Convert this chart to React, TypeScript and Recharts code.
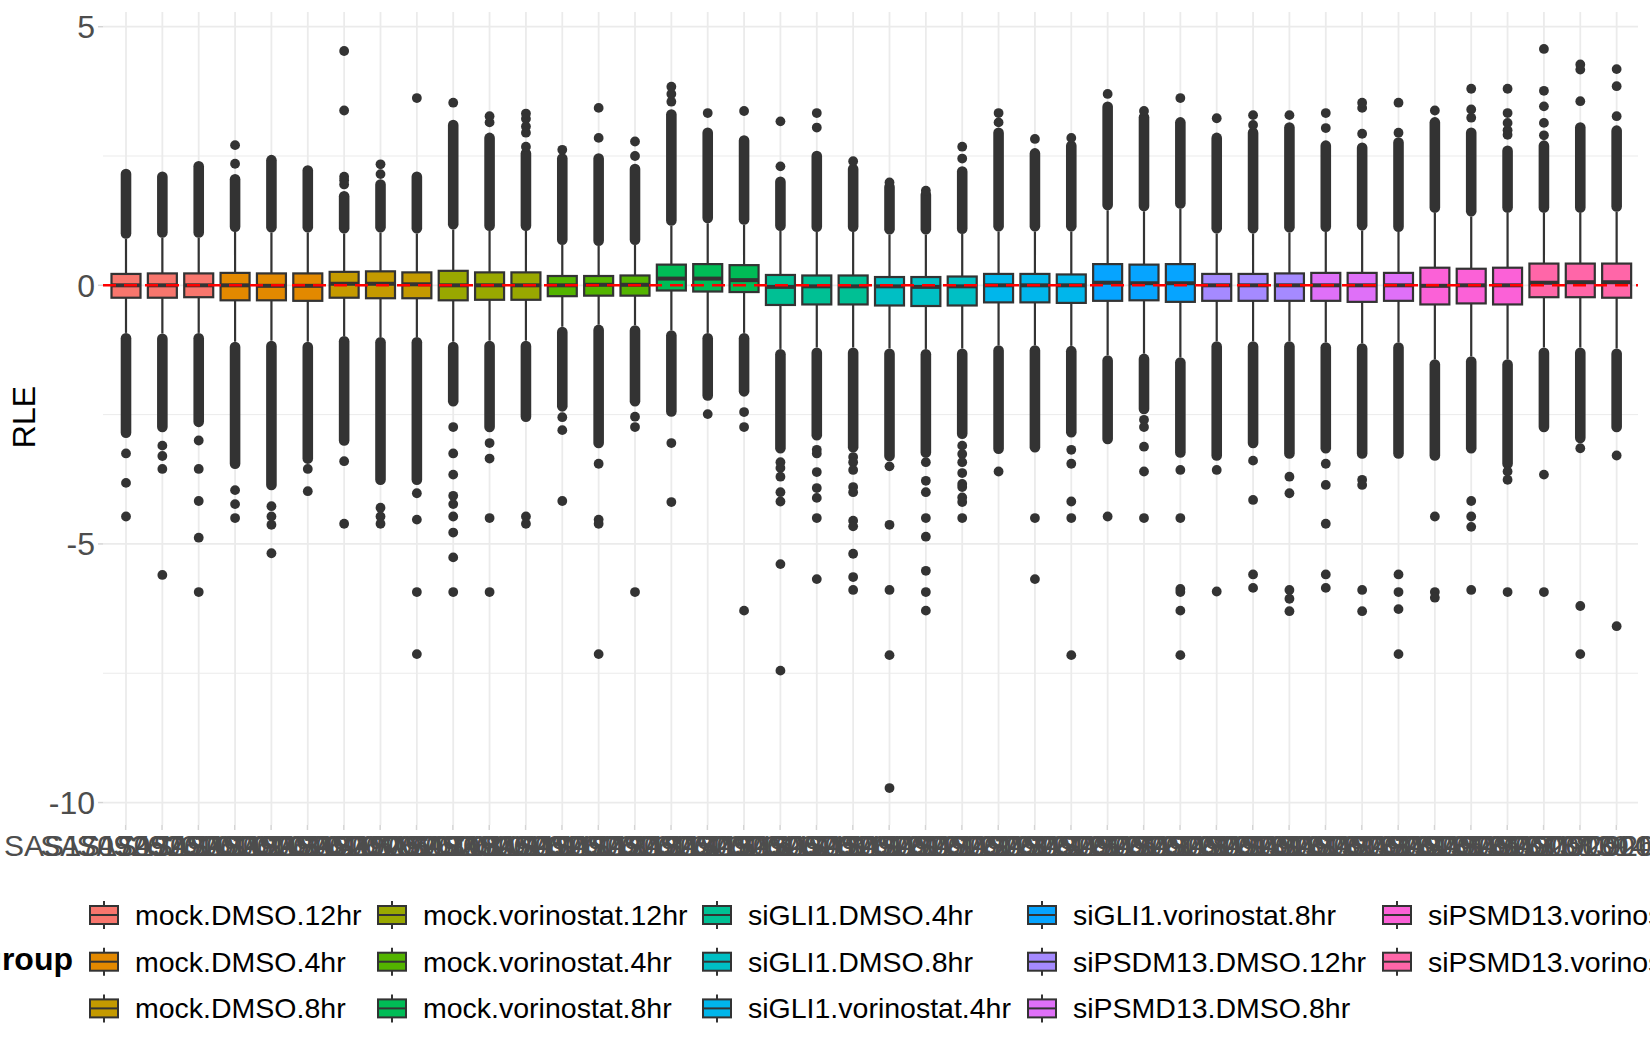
import React from "react";
import { ComposedChart, Bar, XAxis, YAxis, ReferenceLine, CartesianGrid } from "recharts";

const FONT = '"Liberation Sans", Arial, Helvetica, sans-serif';

// ---------- data ----------
const groups = [
  "mock.DMSO.12hr",
  "mock.DMSO.4hr",
  "mock.DMSO.8hr",
  "mock.vorinostat.12hr",
  "mock.vorinostat.4hr",
  "mock.vorinostat.8hr",
  "siGLI1.DMSO.4hr",
  "siGLI1.DMSO.8hr",
  "siGLI1.vorinostat.4hr",
  "siGLI1.vorinostat.8hr",
  "siPSDM13.DMSO.12hr",
  "siPSMD13.DMSO.8hr",
  "siPSMD13.vorinostat.4hr",
  "siPSMD13.vorinostat.8hr",
];

const groupColors = [
  "#F8766D", "#E38900", "#C49A00", "#99A800", "#53B400", "#00BC56", "#00C094",
  "#00BFC4", "#00B6EB", "#06A4FF", "#A58AFF", "#DF70F8", "#FB61D7", "#FF66A8",
];

const sampleNames = [
  "SAS17092600101", "SAS17092600102", "SAS17092600103",
  "SAS17092600104", "SAS17092600105", "SAS17092600106",
  "SAS17092600107", "SAS17092600108", "SAS17092600109",
  "SAS17092600110", "SAS17092600111", "SAS17092600112",
  "SAS17092600113", "SAS17092600114", "SAS17092600115",
  "SAS17092600116", "SAS17092600117", "SAS17092600118",
  "SAS17092600119", "SAS17092600120", "SAS17092600121",
  "SAS17092600122", "SAS17092600123", "SAS17092600124",
  "SAS17092600125", "SAS17092600126", "SAS17092600127",
  "SAS17092600128", "SAS17092600129", "SAS17092600130",
  "SAS17092600131", "SAS17092600132", "SAS17092600133",
  "SAS17092600134", "SAS17092600135", "SAS17092600136",
  "SAS17092600137", "SAS17092600138", "SAS17092600139",
  "SAS17092600140", "SAS17092600141", "SAS17092637893",
];

// group index of each sample
const sampleGroup = [
  0, 0, 0, 1, 1, 1, 2, 2, 2, 3, 3, 3, 4, 4, 4, 5, 5, 5, 6, 6, 6,
  7, 7, 7, 8, 8, 8, 9, 9, 9, 10, 10, 10, 11, 11, 11, 12, 12, 12, 13, 13, 13,
];

const q1 = [
  -0.24, -0.24, -0.23, -0.29, -0.29, -0.3, -0.24, -0.25, -0.25, -0.29, -0.28, -0.28,
  -0.21, -0.2, -0.2, -0.1, -0.12, -0.13, -0.38, -0.37, -0.37, -0.39, -0.4, -0.39,
  -0.33, -0.33, -0.34, -0.3, -0.29, -0.32, -0.3, -0.3, -0.3, -0.3, -0.32, -0.3,
  -0.37, -0.35, -0.37, -0.23, -0.23, -0.24,
];
const median = [
  0, 0, 0, 0, -0.01, -0.01, 0.03, 0.03, 0.02, 0, 0, 0,
  0, 0.01, 0.01, 0.13, 0.13, 0.1, -0.03, -0.02, -0.02, -0.02, -0.03, -0.02,
  0, 0, 0, 0.05, 0.04, 0.04, 0, 0, 0, 0, 0, 0,
  -0.01, 0, 0, 0.05, 0.06, 0.06,
];
const q3 = [
  0.22, 0.23, 0.23, 0.24, 0.23, 0.23, 0.26, 0.27, 0.25, 0.28, 0.25, 0.25,
  0.18, 0.18, 0.19, 0.4, 0.41, 0.39, 0.2, 0.19, 0.19, 0.16, 0.16, 0.17,
  0.22, 0.22, 0.21, 0.41, 0.4, 0.41, 0.22, 0.22, 0.23, 0.24, 0.24, 0.24,
  0.34, 0.32, 0.34, 0.42, 0.42, 0.42,
];
const whiskerLow = [
  -0.92, -0.93, -0.92, -1.09, -1.07, -1.09, -0.98, -1.0, -1.0, -1.09, -1.07, -1.07,
  -0.8, -0.76, -0.77, -0.87, -0.92, -0.92, -1.23, -1.2, -1.2, -1.22, -1.23, -1.22,
  -1.16, -1.16, -1.17, -1.35, -1.32, -1.39, -1.08, -1.08, -1.08, -1.1, -1.12, -1.1,
  -1.43, -1.37, -1.43, -1.2, -1.2, -1.22,
];
const whiskerHigh = [
  0.9, 0.92, 0.92, 1.03, 1.02, 1.02, 1.0, 1.02, 1.0, 1.08, 1.05, 1.05,
  0.78, 0.76, 0.78, 1.15, 1.2, 1.17, 1.05, 1.03, 1.03, 0.98, 0.98, 0.99,
  1.04, 1.04, 1.04, 1.45, 1.43, 1.48, 1.0, 1.0, 1.02, 1.03, 1.06, 1.03,
  1.4, 1.33, 1.4, 1.4, 1.4, 1.42,
];
// extent of the dense outlier clouds (values of the last tightly packed points)
const denseHigh = [
  2.15, 2.1, 2.3, 2.05, 2.42, 2.22, 1.72, 1.95, 2.1, 3.1, 2.85, 2.55,
  2.45, 2.45, 2.25, 3.3, 2.95, 2.8, 2.0, 2.5, 2.25, 1.9, 1.75, 2.2,
  2.95, 2.55, 2.7, 3.45, 3.25, 3.15, 2.85, 2.95, 3.05, 2.7, 2.66, 2.76,
  3.15, 2.95, 2.6, 2.7, 3.05, 2.99,
];
const denseLow = [
  -2.85, -2.74, -2.64, -3.45, -3.86, -3.35, -3.0, -3.76, -3.76, -2.24, -2.74, -2.54,
  -2.34, -3.05, -2.24, -2.44, -2.13, -2.05, -3.15, -2.9, -3.13, -3.3, -3.23, -2.87,
  -3.16, -3.13, -2.84, -2.97, -2.39, -3.23, -3.29, -3.05, -3.25, -3.15, -3.25, -3.25,
  -3.29, -3.15, -3.45, -2.74, -2.95, -2.74,
];
// isolated outliers
const outliers: number[][] = [
  [-3.25, -3.82, -4.47],
  [-3.1, -3.3, -3.55, -5.6],
  [-3.0, -3.55, -4.17, -4.88, -5.93],
  [2.35, 2.71, -3.96, -4.23, -4.5],
  [-4.27, -4.47, -4.63, -5.18],
  [-3.55, -3.98],
  [1.95, 2.03, 2.1, 3.38, 4.53, -3.4, -4.61],
  [2.15, 2.34, -4.3, -4.47, -4.61],
  [3.62, -4.02, -4.53, -5.93, -7.13],
  [3.53, -2.74, -3.25, -3.66, -4.07, -4.23, -4.47, -4.78, -5.26, -5.93],
  [3.15, 3.27, -3.05, -3.35, -4.5, -5.93],
  [2.68, 2.95, 3.07, 3.22, 3.32, -4.47, -4.61],
  [2.62, -2.55, -2.8, -4.17],
  [2.85, 3.43, -3.45, -4.53, -4.61, -7.13],
  [2.5, 2.78, -2.54, -2.74, -5.93],
  [3.55, 3.7, 3.84, -3.05, -4.19],
  [3.33, -2.49],
  [3.37, -2.45, -2.74, -6.29],
  [2.3, 3.17, -3.42, -3.53, -3.7, -4.0, -4.18, -5.39, -7.45],
  [3.05, 3.33, -3.18, -3.25, -3.61, -3.92, -4.11, -4.5, -5.68],
  [2.4, -3.32, -3.42, -3.57, -3.9, -4.0, -4.55, -4.66, -5.19, -5.64, -5.89],
  [1.99, -3.5, -4.63, -5.89, -7.15, -9.72],
  [1.83, -3.42, -3.78, -4.0, -4.5, -4.86, -5.52, -5.93, -6.29],
  [2.45, 2.68, -3.1, -3.26, -3.42, -3.63, -3.84, -3.9, -4.1, -4.19, -4.5],
  [3.15, 3.33, -3.6],
  [2.83, -4.5, -5.68],
  [2.85, -3.18, -3.45, -4.18, -4.5, -7.15],
  [3.7, -4.47],
  [3.37, -2.6, -2.74, -3.12, -3.6, -4.5],
  [3.62, -3.57, -4.5, -5.87, -5.93, -6.29, -7.15],
  [3.23, -3.57, -5.92],
  [3.1, 3.29, -3.39, -4.15, -5.59, -5.85],
  [3.29, -3.7, -4.02, -5.89, -6.06, -6.3],
  [3.04, 3.33, -3.45, -3.86, -4.61, -5.59, -5.85],
  [2.93, 3.43, 3.53, -3.76, -3.86, -5.89, -6.3],
  [2.95, 3.53, -5.59, -5.93, -6.26, -7.13],
  [3.38, -4.47, -5.93, -6.04],
  [3.24, 3.4, 3.8, -4.17, -4.47, -4.67, -5.89],
  [2.91, 3.0, 3.14, 3.33, 3.8, -3.6, -3.76, -5.93],
  [2.9, 3.14, 3.46, 3.76, 4.57, -3.66, -5.93],
  [3.56, 4.17, 4.27, -3.15, -6.2, -7.13],
  [3.27, 3.85, 4.18, -3.29, -6.59],
];

const yTicks = [-10, -5, 0, 5];
const yMinorLines = [-7.5, -2.5, 2.5];
const yDomain: [number, number] = [-10.434, 5.284];

const rows = sampleNames.map((sample, i) => {
  const all = [denseLow[i], denseHigh[i], ...outliers[i]];
  return {
    sample,
    group: groups[sampleGroup[i]],
    color: groupColors[sampleGroup[i]],
    q1: q1[i],
    median: median[i],
    q3: q3[i],
    wLo: whiskerLow[i],
    wHi: whiskerHigh[i],
    dLo: denseLow[i],
    dHi: denseHigh[i],
    outliers: outliers[i],
    range: [Math.min(...all), Math.max(...all)],
  };
});

// ---------- drawing ----------
const INK = "#333333";
const GRID = "#EBEBEB";
const R = 4.9; // outlier point radius
const CLOUD = 5.3; // half width of a dense outlier cloud

const BoxShape = (props: any) => {
  const { x, y, width, height, payload } = props;
  if (!payload || height == null) return null;
  const [lo, hi] = payload.range;
  const k = height / (hi - lo);
  const Y = (v: number) => y + (hi - v) * k;
  const cx = x + width / 2;
  const half = width / 2;
  return (
    <g>
      <line x1={cx} x2={cx} y1={Y(payload.wHi) - CLOUD} y2={Y(payload.dHi)} stroke={INK} strokeWidth={2 * CLOUD} strokeLinecap="round" />
      <line x1={cx} x2={cx} y1={Y(payload.wLo) + CLOUD} y2={Y(payload.dLo)} stroke={INK} strokeWidth={2 * CLOUD} strokeLinecap="round" />
      {payload.outliers.map((v: number, j: number) => (
        <circle key={j} cx={cx} cy={Y(v)} r={R} fill={INK} />
      ))}
      <line x1={cx} x2={cx} y1={Y(payload.q3)} y2={Y(payload.wHi)} stroke={INK} strokeWidth={2.2} />
      <line x1={cx} x2={cx} y1={Y(payload.q1)} y2={Y(payload.wLo)} stroke={INK} strokeWidth={2.2} />
      <rect x={cx - half} y={Y(payload.q3)} width={width} height={Y(payload.q1) - Y(payload.q3)} fill={payload.color} stroke={INK} strokeWidth={2.2} />
      <line x1={cx - half} x2={cx + half} y1={Y(payload.median)} y2={Y(payload.median)} stroke={INK} strokeWidth={4} />
    </g>
  );
};

// vertical major grid line, drawn at the centre of each category slot
const VGrid = (p: any) => {
  const cx = p.x + p.width / 2;
  return <line x1={cx} x2={cx} y1={p.y} y2={p.y + p.height} stroke={GRID} strokeWidth={1.8} />;
};

const XTick = (p: any) => (
  <text x={p.x} y={p.y} dy="0.71em" textAnchor="middle" fontSize={30} fontFamily={FONT} fill="#4D4D4D">
    {p.payload.value}
  </text>
);

const YTick = (p: any) => (
  <text x={p.x} y={p.y} dy="0.355em" textAnchor="end" fontSize={32} fontFamily={FONT} fill="#4D4D4D">
    {p.payload.value}
  </text>
);

const legendColX = [90, 378, 703, 1028, 1383];
const legendRowY = [915, 961.7, 1008.4];

const LegendOverlay = () => (
  <svg width={1650} height={1050} style={{ position: "absolute", left: 0, top: 0, pointerEvents: "none" }}>
    <text x={23} y={417} transform="rotate(-90 23 417)" dy="0.36em" textAnchor="middle" fontSize={32} fontFamily={FONT} fill="#000">
      RLE
    </text>
    <text x={73} y={970} textAnchor="end" fontSize={32} fontWeight="bold" fontFamily={FONT} fill="#000">
      group
    </text>
    {groups.map((g, i) => {
      const col = Math.floor(i / 3);
      const row = i % 3;
      const kx = legendColX[col];
      const ky = legendRowY[row];
      return (
        <g key={g}>
          <line x1={kx + 14} x2={kx + 14} y1={ky - 14} y2={ky + 14} stroke={INK} strokeWidth={2} />
          <rect x={kx} y={ky - 9} width={28} height={18} fill={groupColors[i]} stroke={INK} strokeWidth={2} />
          <line x1={kx} x2={kx + 28} y1={ky} y2={ky} stroke={INK} strokeWidth={2} />
          <text x={kx + 45} y={ky + 10} fontSize={28.5} fontFamily={FONT} fill="#000">
            {g}
          </text>
        </g>
      );
    })}
  </svg>
);

export default function App() {
  return (
    <div style={{ position: "absolute", left: 0, top: 0, width: 1650, height: 1050, overflow: "hidden", background: "#fff" }}>
      <ComposedChart width={1650} height={1050} data={rows} margin={{ top: 12, right: 12, left: 0, bottom: 165 }}>
        <CartesianGrid vertical={false} horizontalValues={yMinorLines} stroke={GRID} strokeWidth={1} fill="none" />
        <CartesianGrid vertical={false} horizontalValues={yTicks} stroke={GRID} strokeWidth={1.8} fill="none" />
        <XAxis
          dataKey="sample"
          type="category"
          interval={0}
          height={60}
          padding={{ left: 4.5, right: 3.5 }}
          axisLine={false}
          tickLine={{ stroke: "#D4D4D4", strokeWidth: 1.5 }}
          tickSize={5}
          tickMargin={5}
          tick={<XTick />}
        />
        <YAxis
          type="number"
          domain={yDomain}
          ticks={yTicks}
          allowDataOverflow
          width={103}
          axisLine={false}
          tickLine={{ stroke: "#D4D4D4", strokeWidth: 1.5 }}
          tickSize={5}
          tickMargin={3}
          tick={<YTick />}
        />
        <Bar dataKey="range" barSize={29} shape={<BoxShape />} background={<VGrid />} isAnimationActive={false} />
        <ReferenceLine y={0} stroke="#FF0000" strokeWidth={2.5} strokeDasharray="13 8" />
      </ComposedChart>
      <LegendOverlay />
    </div>
  );
}
